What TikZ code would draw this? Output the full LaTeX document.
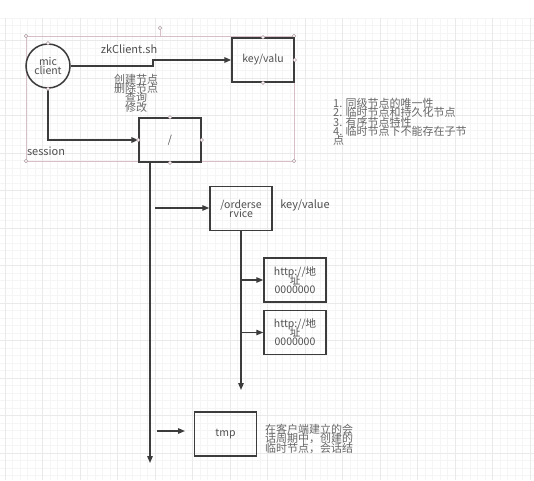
\documentclass[tikz,border=0pt]{standalone}
\usepackage{fontspec}
\setmainfont{Noto Sans CJK SC}
\usetikzlibrary{arrows.meta}
\definecolor{boxline}{HTML}{3C3C3C}
\definecolor{labeltext}{HTML}{505050}
\definecolor{notetext}{HTML}{666666}
\definecolor{selline}{HTML}{D8BFC6}
\definecolor{gridminor}{HTML}{F5F5F5}
\definecolor{gridmajor}{HTML}{EAEAEA}
\newcommand\tightlines{\lineskiplimit=-100pt\relax}
\begin{document}
\begin{tikzpicture}[x=1pt, y=-1pt,
    box/.style={draw=boxline, line width=1.5pt, minimum width=62pt, minimum height=44pt,
        inner sep=0pt, text=labeltext, align=center,
        font=\fontsize{10.5}{9}\selectfont\tightlines},
    conn/.style={draw=boxline, line width=1.3pt, -{Triangle[length=7pt,width=5.5pt]}},
    bold conn/.style={conn, line width=2pt},
    handle/.style={draw=selline!80!black, fill=white, line width=0.5pt},
    lbl/.style={text=labeltext, inner sep=0pt, font=\fontsize{11}{9}\selectfont},
    note/.style={text=notetext, inner sep=0pt,
        font=\fontsize{11}{9.3}\selectfont\tightlines}]
        \useasboundingbox (0,0) rectangle (534,480);
        
        % Grid
        \fill[white] (0,0) rectangle (534,480);
        \foreach \x in {5,12.5,...,534} \draw[gridminor, line width=0.5pt] (\x,18) -- (\x,480);
        \foreach \y in {18,25.5,...,480} \draw[gridminor, line width=0.5pt] (0,\y) -- (534,\y);
        \foreach \x in {5,42.5,...,534} \draw[gridmajor, line width=0.8pt] (\x,18) -- (\x,480);
        \foreach \y in {40.5,78,...,480} \draw[gridmajor, line width=0.8pt] (0,\y) -- (534,\y);
        
        % Selection frame
        \draw[selline, line width=0.6pt] (26,36) rectangle (294,161);
        \draw[selline, line width=0.6pt] (160,36) -- (160,30);
        \foreach \p in {(26,36),(294,36),(26,161),(294,161),(160,28)}
            \filldraw[handle] \p circle (1.8);
        
        % Client and first level
        \node[circle, draw=boxline, line width=1.5pt, minimum size=44pt, inner sep=0pt,
            text=labeltext, align=center,
            font=\fontsize{10.5}{9}\selectfont\tightlines] (mic) at (48,66) {mic\\client};
        \node[box] (kv) at (263,60) {key/valu};
        \node[box] (root) at (170,140) {/};
        \node[lbl] (zk) at (129,49) {zkClient.sh};
        \node[note, align=center] (ops) at (136,93) {创建节点\\删除节点\\查询\\修改};
        \node[lbl] (sess) at (46,151) {session};
        \draw[bold conn] (mic.east) -- ++(82,0) |- (kv.west);
        \draw[bold conn] (mic.south) |- (root.west);
        \foreach \p in {mic.north, mic.south, kv.north, kv.south, kv.east,
                        root.north, root.east, root.south, root.west}
            \filldraw[handle] (\p) circle (1.8);
        
        % Features
        \node[note, align=left, anchor=north west] (rules) at (333,98)
            {1. 同级节点的唯一性\\2. 临时节点和持久化节点\\3. 有序节点特性\\4. 临时节点下不能存在子节\\点};
        
        % Tree below root
        \coordinate (trunk end) at (150,463);
        \draw[conn] (root.south -| trunk end) -- (trunk end);
        
        \node[box] (ord) at (241,208.5) {/orderse\\rvice};
        \node[lbl] (kvv) at (305,205) {key/value};
        \coordinate (ord in) at (155,208);
        \draw[conn] (ord in) -- (ord in -| ord.west);
        \coordinate (ord end) at (241,390);
        \draw[conn] (ord.south) -- (ord end);
        
        \node[box] (http1) at (295,280) {http://地\\址\\0000000};
        \node[box] (http2) at (295,332.5) {http://地\\址\\0000000};
        \draw[conn] (ord.south |- http1.west) -- (http1.west);
        \draw[conn] (ord.south |- http2.west) -- (http2.west);
        
        \node[box] (tmp) at (225.5,434) {tmp};
        \coordinate (tmp in) at (157,431);
        \draw[conn] (tmp in) -- (185,431);
        \node[note, align=left, anchor=north west] (tmpnote) at (265,424)
            {在客户端建立的会\\话周期中，创建的\\临时节点，会话结};
        
    \end{tikzpicture}
\end{document}
